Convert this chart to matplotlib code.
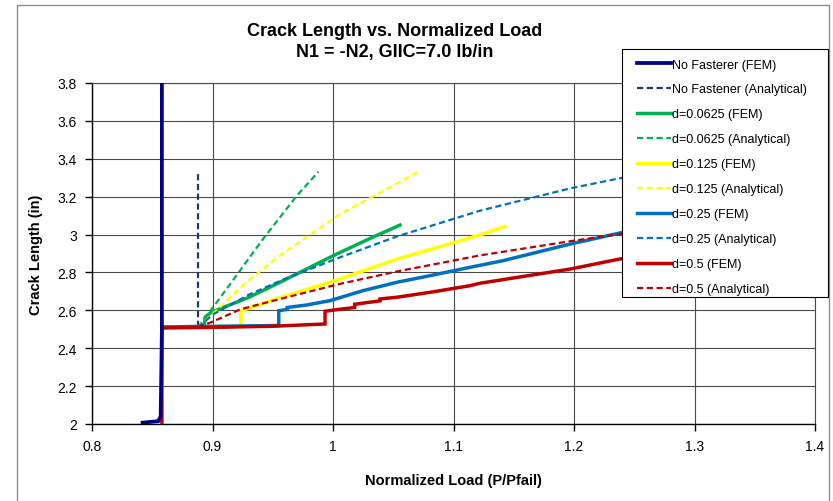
import matplotlib
matplotlib.use("Agg")
import matplotlib.pyplot as plt
from matplotlib.lines import Line2D
from matplotlib.patches import Rectangle

plt.rcParams['font.family'] = ['Liberation Sans', 'DejaVu Sans']

# ---- data ----
navy_fem_x = [0.842, 0.855, 0.857, 0.858, 0.858]
navy_fem_y = [2.007, 2.015, 2.04, 2.5, 3.85]

navy_an_x = [0.888, 0.888]
navy_an_y = [2.51, 3.337]

green_fem_x = [0.858, 0.893, 0.894, 0.899, 0.93, 0.956, 0.9975, 1.006, 1.033, 1.0556]
green_fem_y = [2.512, 2.515, 2.565, 2.59, 2.668, 2.748, 2.88, 2.906, 2.986, 3.05]

green_an_x = [0.888, 0.895, 0.905, 0.920, 0.942, 0.970, 0.988]
green_an_y = [2.51, 2.57, 2.655, 2.785, 2.977, 3.205, 3.332]

yellow_fem_x = [0.858, 0.9237, 0.9237, 0.956, 0.9975, 1.053, 1.122, 1.1427]
yellow_fem_y = [2.512, 2.516, 2.597, 2.667, 2.748, 2.87, 2.998, 3.042]

yellow_an_x = [0.888, 0.91, 0.928, 0.955, 0.984, 1.006, 1.032, 1.071]
yellow_an_y = [2.51, 2.64, 2.748, 2.885, 3.012, 3.109, 3.197, 3.332]

blue_fem_x = [0.858, 0.955, 0.955, 0.962, 0.962, 0.978, 0.9975, 1.025, 1.053, 1.0805,
              1.1137, 1.141, 1.197, 1.238, 1.30]
blue_fem_y = [2.512, 2.52, 2.598, 2.605, 2.615, 2.628, 2.651, 2.704, 2.748, 2.783,
              2.827, 2.862, 2.95, 3.008, 3.09]

blue_an_x = [0.888, 0.90, 0.93, 0.96, 1.006, 1.053, 1.122, 1.197, 1.238, 1.30]
blue_an_y = [2.51, 2.577, 2.682, 2.766, 2.88, 2.99, 3.126, 3.244, 3.297, 3.37]

red_fem_x = [0.858, 0.858, 0.90, 0.95, 0.9934, 0.9934, 1.006, 1.018, 1.018, 1.039, 1.039,
             1.053, 1.0805, 1.1137, 1.122, 1.197, 1.238, 1.30]
red_fem_y = [2.0, 2.507, 2.51, 2.516, 2.528, 2.595, 2.606, 2.615, 2.632, 2.65, 2.66,
             2.669, 2.695, 2.73, 2.743, 2.818, 2.871, 2.92]

red_an_x = [0.888, 0.90, 0.923, 0.956, 1.006, 1.053, 1.122, 1.197, 1.238, 1.30]
red_an_y = [2.51, 2.54, 2.605, 2.66, 2.74, 2.805, 2.89, 2.965, 3.003, 3.06]

labels = ["No Fasterer (FEM)", "No Fastener (Analytical)",
          "d=0.0625 (FEM)", "d=0.0625 (Analytical)",
          "d=0.125 (FEM)", "d=0.125 (Analytical)",
          "d=0.25 (FEM)", "d=0.25 (Analytical)",
          "d=0.5 (FEM)", "d=0.5 (Analytical)"]

x_ticks = [0.8, 0.9, 1.0, 1.1, 1.2, 1.3, 1.4]
x_ticklabels = ["0.8", "0.9", "1", "1.1", "1.2", "1.3", "1.4"]
y_ticks = [2.0, 2.2, 2.4, 2.6, 2.8, 3.0, 3.2, 3.4, 3.6, 3.8]
y_ticklabels = ["2", "2.2", "2.4", "2.6", "2.8", "3", "3.2", "3.4", "3.6", "3.8"]

# ---- figure ----
fig = plt.figure(figsize=(8.33, 5.02), dpi=100)
ax = fig.add_axes([92/833, 1-425/502, (815-92)/833, (425-84)/502])

NAVY = "#000080"
NAVY_D = "#1F3A6E"
GREEN = "#00B050"
YELLOW = "#FFFF00"
BLUE = "#0070C0"
RED = "#C00000"

lw_s = 2.5
lw_d = 1.6
dash = (2.8, 1.6)

series = [
    (navy_fem_x, navy_fem_y, NAVY, '-', 2.7),
    (navy_an_x, navy_an_y, NAVY_D, '--', lw_d),
    (green_fem_x, green_fem_y, GREEN, '-', lw_s),
    (green_an_x, green_an_y, GREEN, '--', lw_d),
    (yellow_fem_x, yellow_fem_y, YELLOW, '-', lw_s),
    (yellow_an_x, yellow_an_y, YELLOW, '--', lw_d),
    (blue_fem_x, blue_fem_y, BLUE, '-', lw_s),
    (blue_an_x, blue_an_y, BLUE, '--', lw_d),
    (red_fem_x, red_fem_y, RED, '-', lw_s),
    (red_an_x, red_an_y, RED, '--', lw_d),
]

handles = []
for i, (xs, ys, c, ls, lw) in enumerate(series):
    z = 10 if i == 0 else 3 + i * 0.1
    style = (0, dash) if ls == '--' else '-'
    ax.plot(xs, ys, color=c, lw=lw, linestyle=style, zorder=z,
            solid_joinstyle='miter')
    handles.append(Line2D([], [], color=c, lw=lw, linestyle=style))

ax.set_xlim(0.8, 1.4)
ax.set_ylim(2.0, 3.8)
ax.set_xticks(x_ticks)
ax.set_xticklabels(x_ticklabels)
ax.set_yticks(y_ticks)
ax.set_yticklabels(y_ticklabels)
ax.tick_params(axis='both', direction='out', length=5, width=1, labelsize=10,
               colors='black', pad=6)
ax.grid(True, color='#4a4a4a', lw=0.8, zorder=0)
ax.set_axisbelow(True)
for s in ['top', 'right']:
    ax.spines[s].set_color('#4a4a4a')
    ax.spines[s].set_linewidth(0.8)
for s in ['left', 'bottom']:
    ax.spines[s].set_color('black')
    ax.spines[s].set_linewidth(1.0)

ax.set_xlabel("Normalized Load (P/Pfail)", fontsize=10.5, fontweight='bold', labelpad=14)
ax.set_ylabel("Crack Length (in)", fontsize=10.5, fontweight='bold', labelpad=10)

fig.text(395/833, 1-32/502, "Crack Length vs. Normalized Load", ha='center', va='center',
         fontsize=13, fontweight='bold')
fig.text(395/833, 1-52/502, "N1 = -N2, GIIC=7.0 lb/in", ha='center', va='center',
         fontsize=13, fontweight='bold')

# outer chart frame
fig.add_artist(Rectangle((17/833, -0.02), (829-17)/833, 1.02-6/502,
                         transform=fig.transFigure, fill=False,
                         edgecolor='#8c8c8c', lw=1.0, zorder=1))

# legend box
fig.add_artist(Rectangle((622/833, 1-298/502), 206/833, 248/502,
                         transform=fig.transFigure, facecolor='white',
                         edgecolor='black', lw=0.8, zorder=4))
fig.legend(handles, labels, loc='upper left',
           bbox_to_anchor=(637/833, 1-59.5/502), bbox_transform=fig.transFigure,
           frameon=False, fontsize=9, handlelength=2.7, handletextpad=0.12,
           labelspacing=1.035, borderpad=0, borderaxespad=0).set_zorder(6)

fig.savefig("out.png", dpi=100)
